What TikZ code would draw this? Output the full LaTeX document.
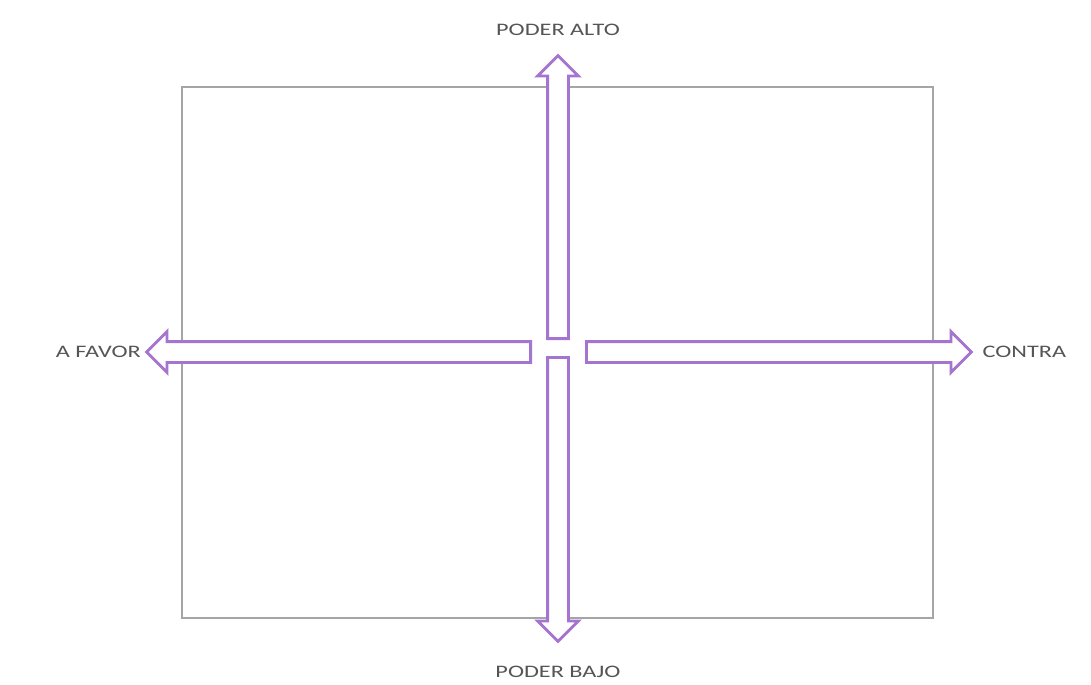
\documentclass[tikz,border=0pt]{standalone}
\usepackage{fontspec}
\setmainfont{Carlito}
\newfontfamily\axisfont[FakeStretch=1.38]{Carlito}
\usetikzlibrary{positioning,shapes.arrows}
\definecolor{axisPurple}{RGB}{165,115,208}
\definecolor{frameGray}{RGB}{165,165,165}
\definecolor{labelGray}{RGB}{85,85,85}
\tikzset{
  axisarrow/.style={single arrow,draw=axisPurple,fill=white,line width=1.6pt,
    minimum width=0.8cm,single arrow head extend=0.2cm,inner sep=0pt,
    text width=0pt,text height=0.36cm,anchor=tail},
  axislabel/.style={text=labelGray,font=\axisfont\fontsize{10}{11}\selectfont,inner sep=0pt}
}

\begin{document}
\begin{tikzpicture}[x=0.02cm,y=-0.02cm]
\useasboundingbox (0,0) rectangle (1091,684);
\node[draw=frameGray,line width=1.2pt,minimum width=15.02cm,minimum height=10.62cm,inner sep=0pt] (frame) at (557.5,352.5) {};
\node[axisarrow,minimum height=5.66cm,rotate=90] (upar) at (558,340) {};
\node[axisarrow,minimum height=5.68cm,rotate=-90] (downar) at (558,356) {};
\node[axisarrow,minimum height=7.68cm,rotate=180] (leftar) at (532,352) {};
\node[axisarrow,minimum height=7.70cm] (rightar) at (585,352) {};
\node[axislabel,above=0.36cm of upar.tip] (alto) {PODER ALTO};
\node[axislabel,below=0.44cm of downar.tip] (bajo) {PODER BAJO};
\node[axislabel,left=0.07cm of leftar.tip] (favor) {A FAVOR};
\node[axislabel,right=0.18cm of rightar.tip] (contra) {CONTRA};
\end{tikzpicture}
\end{document}
